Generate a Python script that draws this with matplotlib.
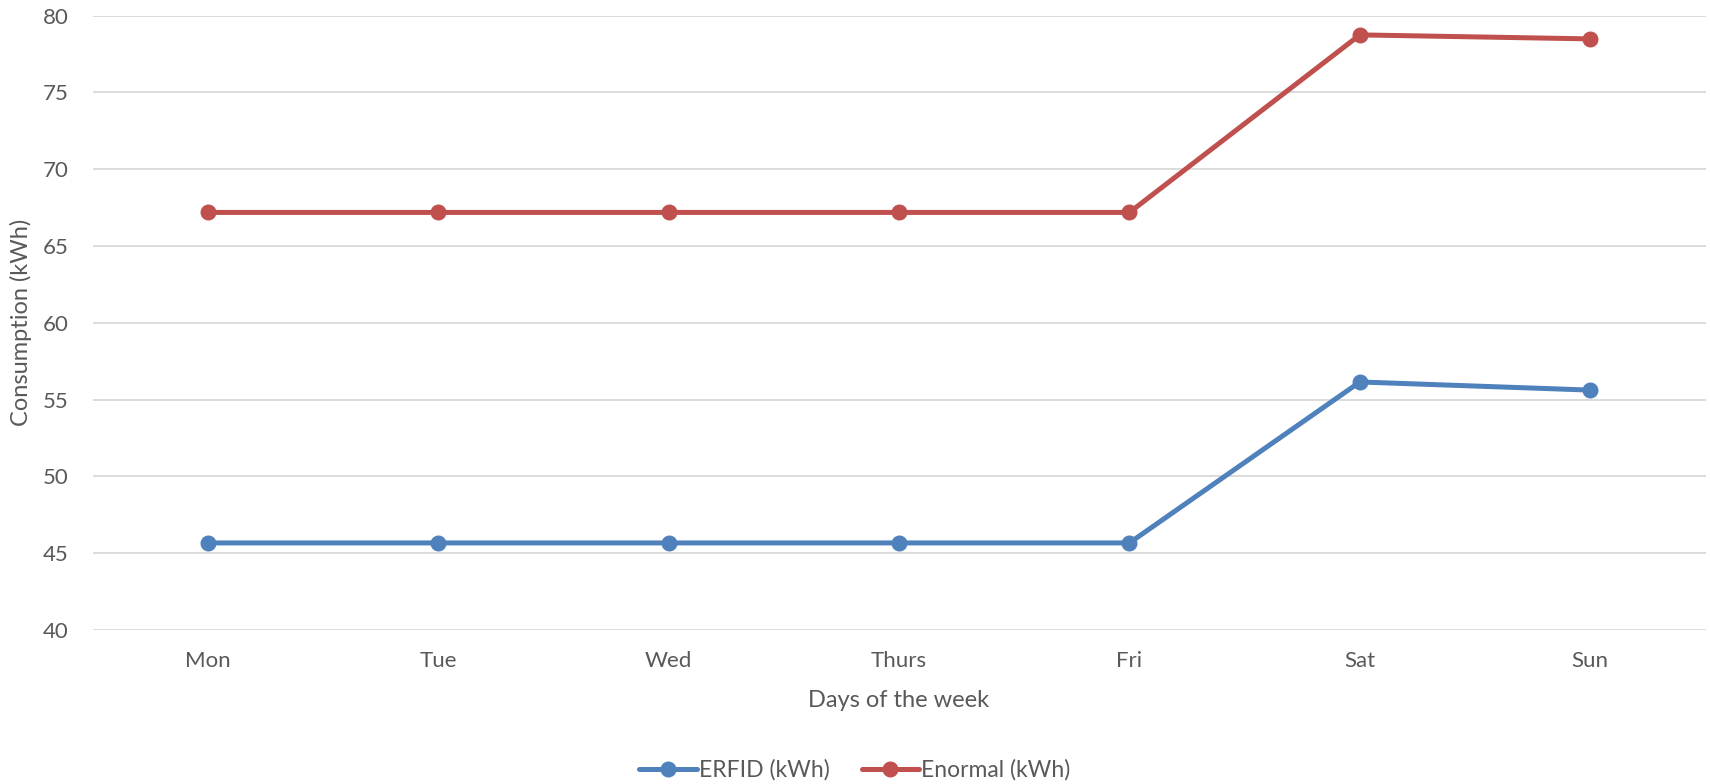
import matplotlib
matplotlib.use("Agg")
import matplotlib.pyplot as plt
from matplotlib.ticker import MultipleLocator

days = ["Mon", "Tue", "Wed", "Thurs", "Fri", "Sat", "Sun"]
erfid_kwh = [45.67, 45.67, 45.67, 45.67, 45.67, 56.15, 55.62]
enormal_kwh = [67.19, 67.19, 67.19, 67.19, 67.19, 78.75, 78.49]

plt.rcParams["font.family"] = ["Lato", "DejaVu Sans"]
text_color = "#595959"
grid_color = "#D9D9D9"

fig = plt.figure(figsize=(17.10, 7.84), dpi=100)
ax = fig.add_axes([92.5 / 1710, 1 - 630 / 784, (1705.5 - 92.5) / 1710, (630 - 15.7) / 784])

x = list(range(len(days)))
ax.plot(x, erfid_kwh, color="#4F81BD", lw=3.6, marker="o", ms=10.5,
        solid_capstyle="round", label="ERFID (kWh)", zorder=3)
ax.plot(x, enormal_kwh, color="#C0504D", lw=3.6, marker="o", ms=10.5,
        solid_capstyle="round", label="Enormal (kWh)", zorder=3)

ax.set_xlim(-0.5, len(days) - 0.5)
ax.set_ylim(40, 80)
ax.yaxis.set_major_locator(MultipleLocator(5))
ax.set_xticks(x)
ax.set_xticklabels(days)

ax.grid(axis="y", color=grid_color, lw=1.3)
ax.set_axisbelow(True)
for s in ax.spines.values():
    s.set_visible(False)
ax.tick_params(length=0, labelsize=16, colors=text_color)
ax.tick_params(axis="x", pad=15)
ax.tick_params(axis="y", pad=17)

ax.set_xlabel("Days of the week", fontsize=17, color=text_color, labelpad=14)
ax.set_ylabel("Consumption (kWh)", fontsize=17, color=text_color, labelpad=8)

fig.legend(loc="center", bbox_to_anchor=(0.5, 1 - 770 / 784), ncol=2, frameon=False,
           fontsize=16.5, labelcolor=text_color, handlelength=2.5, handletextpad=0.1,
           columnspacing=1.4)

fig.savefig("out.png", dpi=100, facecolor="white")
